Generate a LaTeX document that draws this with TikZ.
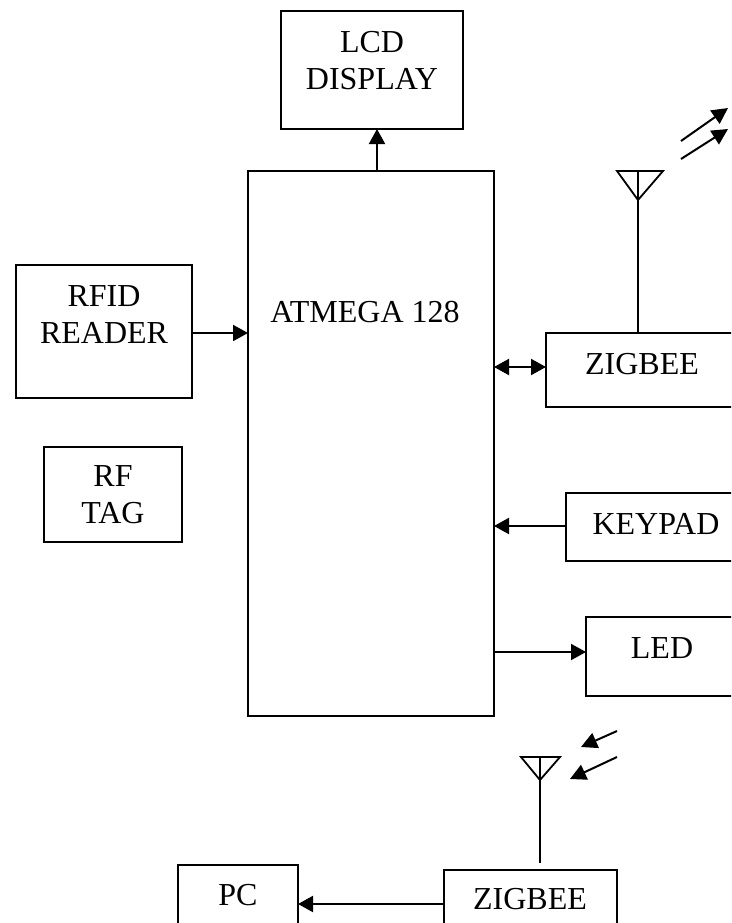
\documentclass[tikz,border=0pt]{standalone}
\usepackage{fontspec}
\setmainfont{Liberation Serif}
\usetikzlibrary{arrows.meta}
\tikzset{
  box/.style={draw=black,line width=1.9pt,inner sep=0pt,outer sep=0pt,fill=none},
  txt/.style={inner sep=0pt,outer sep=0pt,align=center,font=\fontsize{32}{37}\selectfont,text=black},
  wire/.style={line width=2pt,draw=black},
  conn/.style={wire,-{Triangle[length=15pt,width=16pt]}},
  biconn/.style={wire,{Triangle[length=15pt,width=16pt]}-{Triangle[length=15pt,width=16pt]}},
  ray/.style={wire,-{Triangle[length=16pt,width=16pt]}},
  aerial/.style={line width=1.8pt,draw=black,line join=miter}
}
\begin{document}
\begin{tikzpicture}[x=1pt,y=-1pt]
\useasboundingbox (0,0) rectangle (731,923);
\clip (0,0) rectangle (731,923);
\fill[white] (0,0) rectangle (731,923);
% boxes
\node[box,minimum width=182pt,minimum height=118pt] (lcd) at (372,70) {};
\node[box,minimum width=246pt,minimum height=545pt] (mcu) at (371,443.5) {};
\node[box,minimum width=176pt,minimum height=133pt] (rfid) at (104,331.5) {};
\node[box,minimum width=138pt,minimum height=95pt] (tag) at (113,494.5) {};
\node[box,minimum width=224pt,minimum height=74pt] (zig) at (658,370) {};
\node[box,minimum width=204pt,minimum height=68pt] (key) at (668,527) {};
\node[box,minimum width=184pt,minimum height=79pt] (led) at (678,656.5) {};
\node[box,minimum width=120pt,minimum height=85pt] (pc) at (238,907.5) {};
\node[box,minimum width=173pt,minimum height=80pt] (zigb) at (530.5,910) {};
% texts
\node[txt] (lcdt) at (372,61) {LCD\\DISPLAY};
\node[txt] (mcut) at (365,312) {ATMEGA 128};
\node[txt] (rfidt) at (104,315) {RFID\\READER};
\node[txt] (tagt) at (113,495) {RF\\TAG};
\node[txt] (zigt) at (642,364) {ZIGBEE};
\node[txt] (keyt) at (656,524) {KEYPAD};
\node[txt] (ledt) at (662,648) {LED};
\node[txt] (pct) at (238,895) {PC};
\node[txt] (zigbt) at (530,899) {ZIGBEE};
% levels of the connectors
\coordinate (xlcd) at (377,0);
\coordinate (yrfid) at (0,333);
\coordinate (yzig) at (0,367);
\coordinate (ykey) at (0,526);
\coordinate (yled) at (0,652);
\coordinate (ypc) at (0,904);
% connectors
\draw[conn] (mcu.north -| xlcd) -- (lcd.south -| xlcd);
\draw[conn] (rfid.east |- yrfid) -- (mcu.west |- yrfid);
\draw[biconn] (mcu.east |- yzig) -- (zig.west |- yzig);
\draw[conn] (key.west |- ykey) -- (mcu.east |- ykey);
\draw[conn] (mcu.east |- yled) -- (led.west |- yled);
\draw[conn] (zigb.west |- ypc) -- (pc.east |- ypc);
% aerial of the upper ZIGBEE
\coordinate (a1l) at (617,171);
\coordinate (a1r) at (663,171);
\coordinate (a1t) at (638,171);
\coordinate (a1a) at (638,200);
\draw[aerial] (a1l) -- (a1r) -- (a1a) -- cycle;
\draw[aerial] (a1t) -- (zig.north -| a1t);
\coordinate (r1s) at (681,141);
\coordinate (r1e) at (728,108);
\coordinate (r2s) at (681,159);
\coordinate (r2e) at (728,129);
\draw[ray] (r1s) -- (r1e);
\draw[ray] (r2s) -- (r2e);
% aerial of the lower ZIGBEE
\coordinate (a2l) at (521,757);
\coordinate (a2r) at (560,757);
\coordinate (a2t) at (540,757);
\coordinate (a2a) at (540,780);
\coordinate (a2b) at (540,863);
\draw[aerial] (a2l) -- (a2r) -- (a2a) -- cycle;
\draw[aerial] (a2t) -- (a2b);
\coordinate (r3s) at (617,731);
\coordinate (r3e) at (581,747);
\coordinate (r4s) at (617,757);
\coordinate (r4e) at (570,779);
\draw[ray] (r3s) -- (r3e);
\draw[ray] (r4s) -- (r4e);
\end{tikzpicture}
\end{document}
